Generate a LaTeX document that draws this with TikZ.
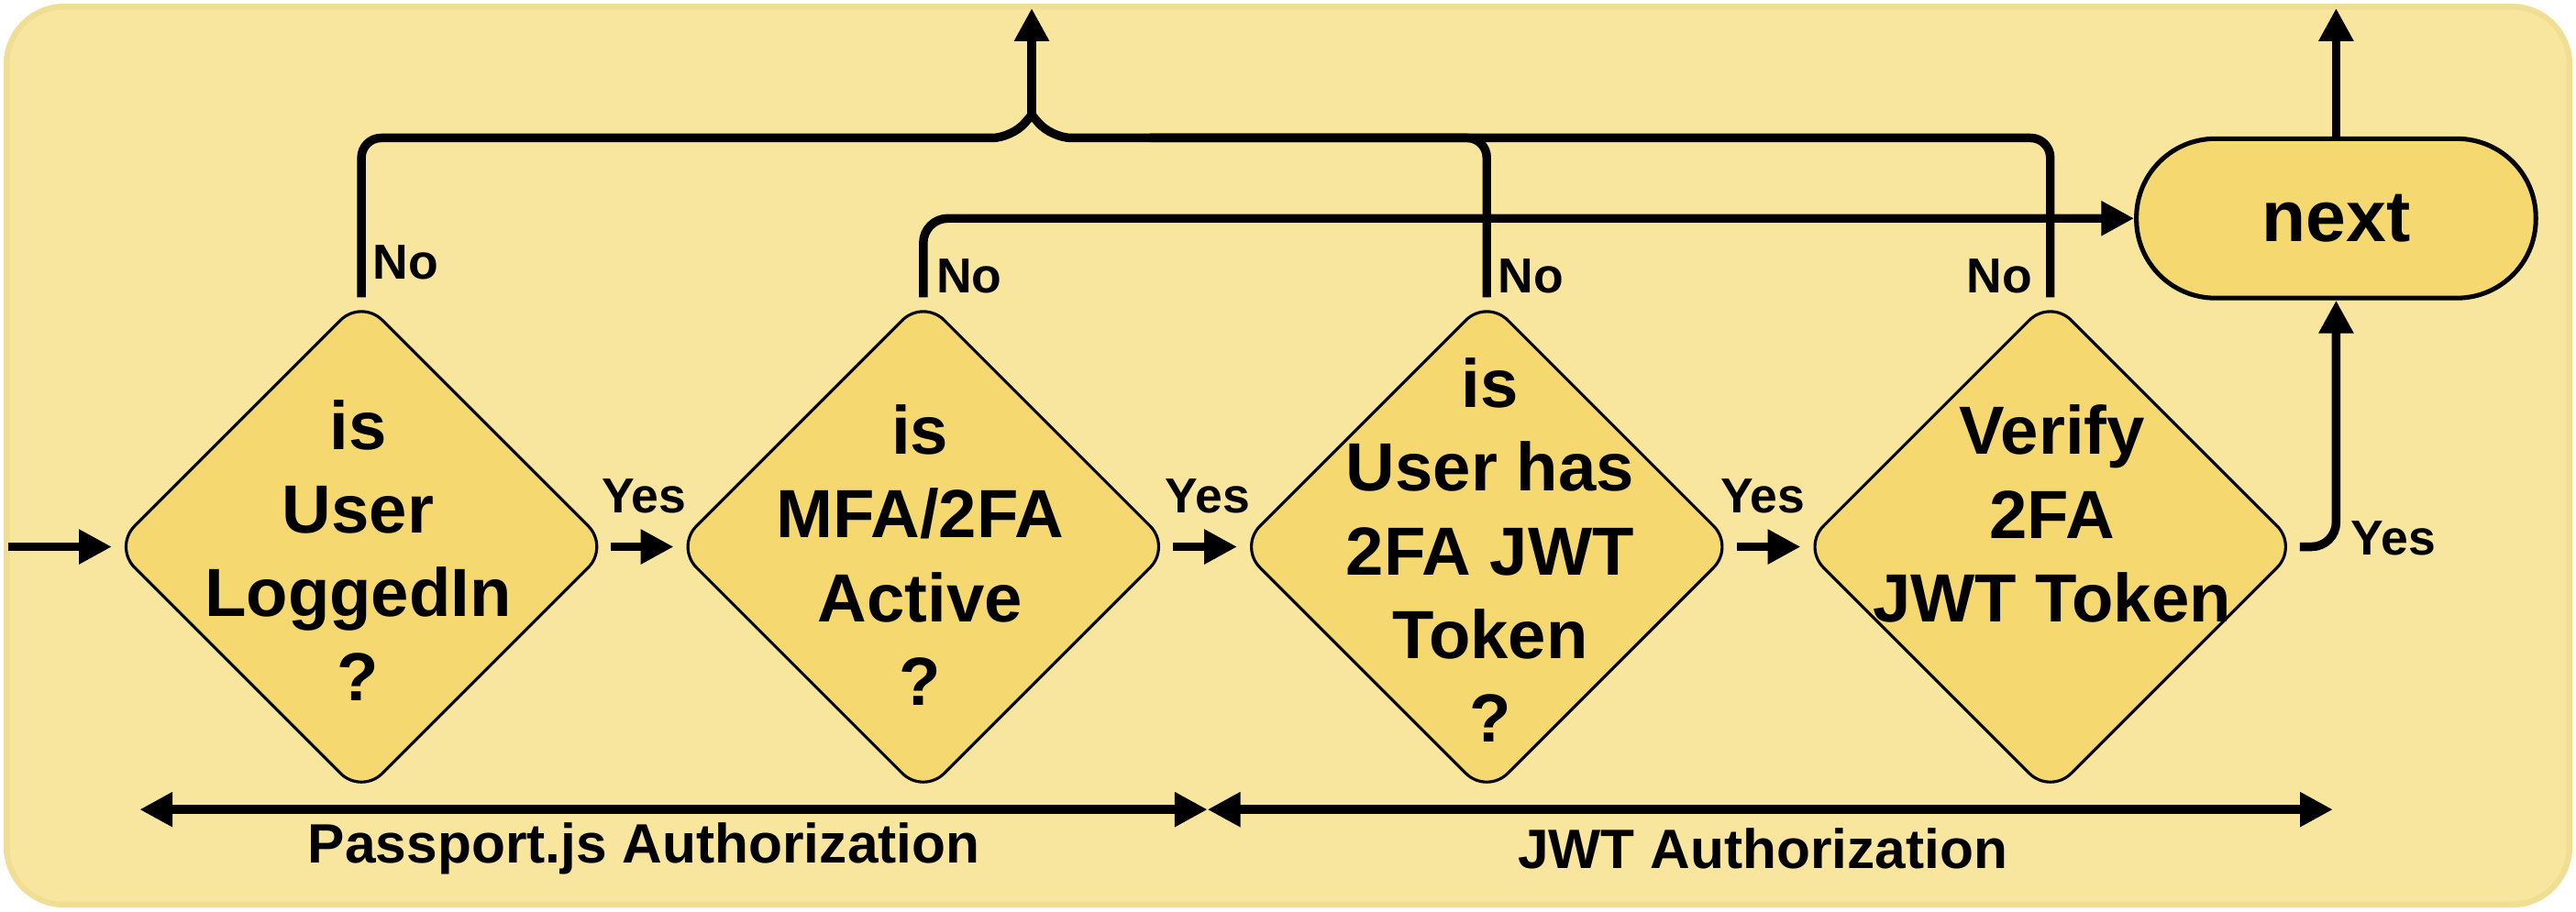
\documentclass[tikz,border=0pt]{standalone}
\usepackage{fontspec}
\setmainfont{Liberation Sans}
\usetikzlibrary{shapes.geometric,arrows.meta}
\definecolor{bg}{HTML}{F8E59E}
\definecolor{bgb}{HTML}{F1DE95}
\definecolor{dfill}{HTML}{F5D86F}
\tikzset{
  dia/.style={diamond,draw=black,line width=0.5pt,fill=dfill,minimum width=3.02cm,minimum height=3.02cm,inner sep=0pt,rounded corners=0.18cm},
  dtext/.style={align=center,font=\fontsize{11.8}{14.5}\selectfont\bfseries},
  lab/.style={font=\fontsize{8.5}{10}\selectfont\bfseries},
  blab/.style={font=\fontsize{9.6}{12}\selectfont\bfseries},
  conn/.style={line width=1.5pt,-{Triangle[length=0.2cm,width=0.2cm]}},
  plain/.style={line width=1.5pt,line join=round},
}
\begin{document}
\begin{tikzpicture}[x=0.01cm,y=-0.01cm]
\useasboundingbox (0,0) rectangle (1568,555);
\fill[white] (0,0) rectangle (1568,555);
\draw[fill=bg,draw=bgb,line width=1pt,rounded corners=0.35cm] (4,4) rectangle (1564,551);
\node[dia] (d1) at (220,333) {};
\node[dia] (d2) at (562,333) {};
\node[dia] (d3) at (905,333) {};
\node[dia] (d4) at (1248,333) {};
\node[dtext] (t1) at (218,335) {is\\User\\LoggedIn\\?};
\node[dtext] (t2) at (560,338) {is\\MFA/2FA\\Active\\?};
\node[dtext] (t3) at (907,335) {is\\User has\\2FA JWT\\Token\\?};
\node[dtext] (t4) at (1249,313) {Verify\\2FA\\JWT Token};
\node[draw=black,line width=0.8pt,fill=dfill,rounded corners=0.48cm,minimum width=2.43cm,minimum height=0.97cm,font=\fontsize{12.5}{14}\selectfont\bfseries] (nx) at (1422,133) {next};
\coordinate (in) at (5,333);
\coordinate (top1) at (628,5);
\coordinate (top2) at (1422,5);
\draw[conn] (in) -- (d1.west);
\draw[conn] (d1.east) -- (d2.west);
\draw[conn] (d2.east) -- (d3.west);
\draw[conn] (d3.east) -- (d4.west);
\draw[conn,rounded corners=0.15cm] (d4.east) -| (nx.south);
\draw[conn] (nx.north) -- (top2);
\draw[plain,rounded corners=0.12cm] (d1.north) |- (616,84) -- (628,70);
\draw[plain,rounded corners=0.12cm] (d4.north) |- (640,84) -- (628,70);
\draw[plain,rounded corners=0.12cm] (d3.north) |- (700,84);
\draw[conn] (628,72) -- (top1);
\draw[conn,rounded corners=0.15cm] (d2.north) |- (nx.west);
\node[lab] (y1) at (392,302) {Yes};
\node[lab] (y2) at (735,302) {Yes};
\node[lab] (y3) at (1073,302) {Yes};
\node[lab] (y4) at (1457,328) {Yes};
\node[lab] (n1) at (247,160) {No};
\node[lab] (n2) at (590,168) {No};
\node[lab] (n3) at (932,168) {No};
\node[lab] (n4) at (1217,168) {No};
\coordinate (b1) at (85,493);
\coordinate (b2) at (735,493);
\coordinate (b3) at (1420,493);
\draw[line width=1.5pt,{Triangle[length=0.2cm,width=0.2cm]}-{Triangle[length=0.2cm,width=0.2cm]}] (b1) -- (b2);
\draw[line width=1.5pt,{Triangle[length=0.2cm,width=0.2cm]}-{Triangle[length=0.2cm,width=0.2cm]}] (b2) -- (b3);
\node[blab] (p1) at (392,517) {Passport.js Authorization};
\node[blab] (p2) at (1073,517) {JWT Authorization};
\end{tikzpicture}
\end{document}
